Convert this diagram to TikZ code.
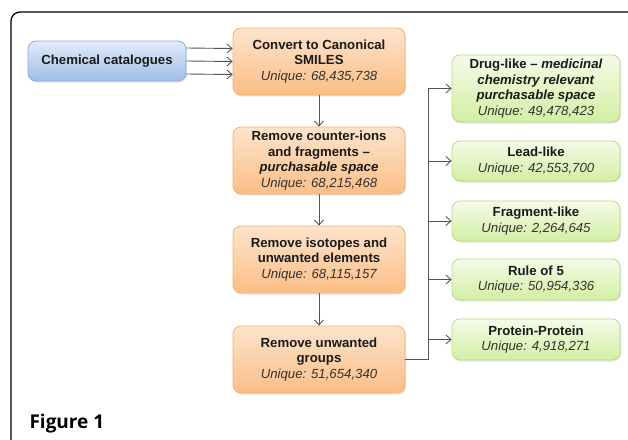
\documentclass[tikz,border=0pt]{standalone}
\usepackage{fontspec}
\setmainfont{Liberation Sans}
\newfontfamily\figfont{Open Sans}
\usetikzlibrary{arrows.meta, positioning, shadows}
\usepackage{xcolor}
\definecolor{cattop}{HTML}{E2ECF9}
\definecolor{catbottom}{HTML}{9DBDE8}
\definecolor{catline}{HTML}{8AACDA}
\definecolor{steptop}{HTML}{FDE4CC}
\definecolor{stepbottom}{HTML}{FBBE86}
\definecolor{stepline}{HTML}{F4B06E}
\definecolor{subtop}{HTML}{F5FBE8}
\definecolor{subbottom}{HTML}{D2EFA3}
\definecolor{subline}{HTML}{B5DA82}
\definecolor{linegray}{HTML}{555555}
\definecolor{textdark}{HTML}{1A1A1A}
\definecolor{uniqgray}{HTML}{333333}
\tikzset{%
	box/.style={
		rounded corners=8pt,
		draw,
		line width=0.8pt,
		align=center,
		inner sep=2pt,
		text=textdark,
		font=\fontsize{13.2}{15.6}\selectfont\bfseries,
		drop shadow={shadow xshift=1.2pt, shadow yshift=-1.6pt, opacity=0.2}
	},
	catbox/.style={box, draw=catline, top color=cattop, bottom color=catbottom,
		minimum width=158pt, minimum height=40pt},
	stepbox/.style={box, draw=stepline, top color=steptop, bottom color=stepbottom,
		minimum width=172pt, minimum height=67pt},
	subsetbox/.style={box, draw=subline, top color=subtop, bottom color=subbottom,
		minimum width=168pt, minimum height=40pt},
	flow/.style={
		draw=linegray,
		line width=0.9pt,
		-{Straight Barb[length=5pt,width=9pt]}
	},
}
\newcommand{\uniq}[1]{{\mdseries\itshape\color{uniqgray}Unique: #1}}

\begin{document}
\begin{tikzpicture}[x=1pt, y=-1pt]
	\useasboundingbox (0,0) rectangle (628,439);
	
	% Draw the frame round the figure
	\draw[line width=1.3pt, rounded corners=9pt] (11,12) rectangle (640,450);
	
	% Draw the source and the processing steps
	\node[catbox] (cat) at (107,61) {Chemical catalogues};
	\node[stepbox] (conv) at (319,61.5) {Convert to Canonical\\SMILES\\\uniq{68,435,738}};
	\node[stepbox] (ions) at (319,160.5) {Remove counter-ions\\and fragments --\\\textit{purchasable space}\\\uniq{68,215,468}};
	\node[stepbox] (isot) at (319,259.5) {Remove isotopes and\\unwanted elements\\\uniq{68,115,157}};
	\node[stepbox] (groups) at (319,359.5) {Remove unwanted\\groups\\\uniq{51,654,340}};
	
	% Draw the subsets
	\node[subsetbox, minimum height=67pt] (drug) at (536,88.5) {Drug-like -- \textit{medicinal}\\\textit{chemistry relevant}\\\textit{purchasable space}\\\uniq{49,478,423}};
	\node[subsetbox] (lead) at (536,161) {Lead-like\\\uniq{42,553,700}};
	\node[subsetbox] (frag) at (536,221) {Fragment-like\\\uniq{2,264,645}};
	\node[subsetbox, minimum height=41pt] (ro5) at (536,279.5) {Rule of 5\\\uniq{50,954,336}};
	\node[subsetbox, minimum height=41pt] (ppi) at (536,339.5) {Protein-Protein\\\uniq{4,918,271}};
	
	% Connect the catalogues to the first step
	\foreach \dy in {13,0,-13} {
		\draw[flow] ([yshift=\dy pt]cat.east) -- ([yshift=\dy pt]conv.west);
	}
	
	% Connect the steps
	\draw[flow] (conv) -- (ions);
	\draw[flow] (ions) -- (isot);
	\draw[flow] (isot) -- (groups);
	
	% Branch out to the subsets
	\coordinate (trunk) at (428,0);
	\draw[draw=linegray, line width=0.9pt] (groups.east) -- (groups.east -| trunk) -- (drug.west -| trunk);
	\foreach \sub in {drug,lead,frag,ro5,ppi} {
		\draw[flow] (\sub.west -| trunk) -- (\sub.west);
	}
	
	\node[anchor=base west, font=\figfont\fontsize{19}{22}\selectfont\bfseries] (fig) at (26,428) {Figure 1};
\end{tikzpicture}
\end{document}
